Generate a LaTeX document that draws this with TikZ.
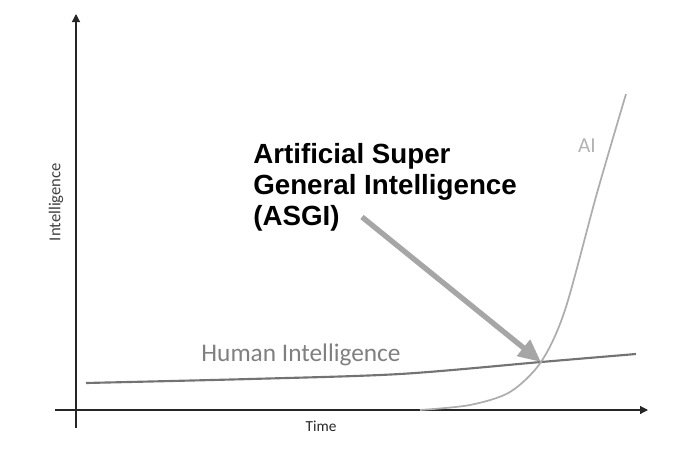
\documentclass[tikz,border=0pt]{standalone}
\usepackage{fontspec}
\setmainfont{Carlito}
\newfontfamily\boldsans{Liberation Sans}
\usetikzlibrary{arrows.meta,positioning}

\begin{document}
\begin{tikzpicture}[x=0.75pt,y=-0.75pt,
  axis/.style={line width=0.9pt,draw=black!85,-{Triangle[length=6pt,width=6pt]}},
  humanline/.style={line width=1.6pt,draw=black!55},
  ailine/.style={line width=1.3pt,draw=black!32},
  pointer/.style={line width=4pt,draw=black!35,-{Triangle[length=17pt,width=15pt]}},
  lbl/.style={inner sep=0pt,text=black!50}]
\useasboundingbox (0,0) rectangle (686,468);
\coordinate (ytop) at (76,14);
\coordinate (ybot) at (76,428);
\coordinate (xleft) at (55,410);
\coordinate (xright) at (648,410);
\coordinate (cross) at (541,362);
\coordinate (tail) at (362,217);
\draw[axis] (ybot) -- (ytop);
\draw[axis] (xleft) -- (xright);
\draw[humanline] plot[smooth] coordinates {(86,383) (250,379) (400,374) (cross) (636,354)};
\draw[ailine] plot[smooth] coordinates {(420,410) (470,405) (510,392) (cross) (565,310) (597,193) (626,94)};
\node[lbl,rotate=90,text=black!75,font=\fontsize{12.5}{14}\selectfont] (ylab) at (56,202) {Intelligence};
\node[lbl,text=black!85,font=\fontsize{11.5}{14}\selectfont] (xlab) at (321,426) {Time};
\node[lbl,font=\fontsize{19}{22}\selectfont] (hlab) at (301,355) {Human Intelligence};
\node[lbl,text=black!30,font=\fontsize{16}{19}\selectfont] (ailab) at (587,146) {AI};
\node[inner sep=0pt,anchor=north west,align=left,font=\boldsans\bfseries\fontsize{20.8}{23.25}\selectfont] (asgi) at (253,143) {Artificial Super\\General Intelligence\\(ASGI)};
\draw[pointer] (tail) -- (cross);
\end{tikzpicture}
\end{document}
